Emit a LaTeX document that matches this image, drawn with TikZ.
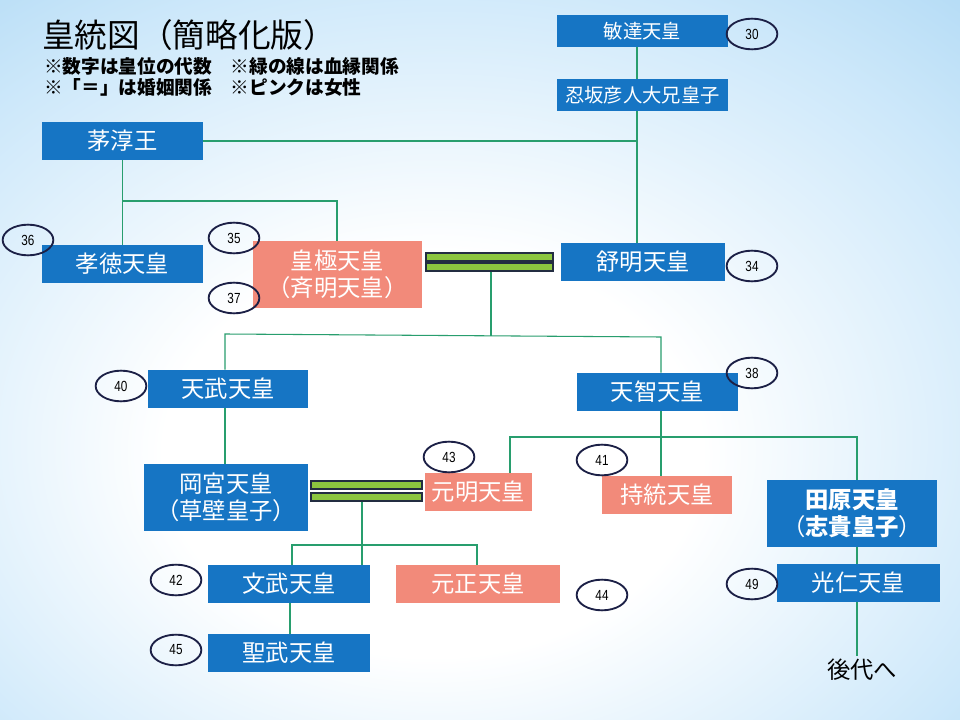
\documentclass[tikz,border=0pt]{standalone}
\usepackage{fontspec}
\newfontfamily\jp{Noto Sans CJK JP}
\newfontfamily\numf[FakeStretch=0.8]{Liberation Sans}
\usetikzlibrary{shapes.geometric}
\definecolor{boxblue}{RGB}{22,117,196}
\definecolor{boxpink}{RGB}{242,138,122}
\definecolor{kingreen}{RGB}{40,158,110}
\definecolor{barfill}{RGB}{140,198,63}
\definecolor{barline}{RGB}{35,45,65}
\definecolor{ellline}{RGB}{28,32,70}
\definecolor{bgblue}{RGB}{150,204,240}
\definecolor{bgmid}{RGB}{205,232,250}
\pgfdeclareradialshading{bgshade}{\pgfpoint{-3bp}{-8bp}}{color(0bp)=(white); color(14bp)=(white); color(32bp)=(bgmid); color(50bp)=(bgblue); color(80bp)=(bgblue)}
\newcommand\bx[7]{\node[#6, minimum width={(#4-#2)*0.75pt}, minimum height={(#5-#3)*0.75pt}] (#1) at ({(#2+#4)/2},{(#3+#5)/2}) {#7};}
\newcommand\rk[4]{\node[rankel] (#1) at (#2,#3) {#4};}
\begin{document}
\begin{tikzpicture}[x=0.75pt,y=-0.75pt,
  base/.style={rectangle, inner sep=0pt, text=white, align=center, font=\jp\fontsize{17.5}{20}\selectfont},
  blue/.style={base, fill=boxblue},
  pink/.style={base, fill=boxpink},
  small/.style={font=\jp\fontsize{14.5}{17}\selectfont},
  bar/.style={rectangle, inner sep=0pt, fill=barfill, draw=barline, line width=1.2pt},
  kin/.style={draw=kingreen, line width=0.8pt},
  rankel/.style={ellipse, draw=ellline, line width=1.4pt, inner sep=0pt, minimum width=38pt, minimum height=23pt, font=\numf\fontsize{11}{12}\selectfont, text=black}]
\useasboundingbox (0,0) rectangle (960,720);
\shade[shading=bgshade] (0,0) rectangle (960,720);

% title
\node[anchor=west, inner sep=0pt, font=\jp\fontsize{24.5}{28}\selectfont] (title) at (42,35) {皇統図（簡略化版）};
\node[anchor=west, inner sep=0pt, font=\jp\bfseries\fontsize{14}{16}\selectfont] (note1) at (44,66) {※数字は皇位の代数　※緑の線は血縁関係};
\node[anchor=west, inner sep=0pt, font=\jp\bfseries\fontsize{14}{16}\selectfont] (note2) at (44,87) {※「＝」は婚姻関係　※ピンクは女性};

% boxes
\bx{bidatsu}{557}{15}{728}{47}{blue,small}{敏達天皇}
\bx{oshi}{557}{79}{728}{111}{blue,small}{忍坂彦人大兄皇子}
\bx{chinu}{42}{122}{203}{160}{blue}{茅淳王}
\bx{kotoku}{42}{245}{203}{283}{blue}{孝徳天皇}
\bx{kogyoku}{253}{241}{422}{308}{pink}{皇極天皇\\（斉明天皇）}
\bx{jomei}{561}{243}{725}{281}{blue}{舒明天皇}
\bx{tenmu}{148}{370}{308}{408}{blue}{天武天皇}
\bx{tenji}{577}{373}{738}{411}{blue}{天智天皇}
\bx{okamiya}{144}{464}{308}{531}{blue}{岡宮天皇\\（草壁皇子）}
\bx{genmei}{425}{473}{532}{511}{pink}{元明天皇}
\bx{jito}{602}{476}{732}{514}{pink}{持統天皇}
\bx{tahara}{767}{480}{937}{547}{blue}{{\bfseries 田原天皇}\\（{\bfseries 志貴皇子}）}
\bx{monmu}{208}{565}{370}{603}{blue}{文武天皇}
\bx{gensho}{396}{565}{560}{603}{pink}{元正天皇}
\bx{shomu}{208}{634}{370}{672}{blue}{聖武天皇}
\bx{konin}{777}{564}{940}{602}{blue}{光仁天皇}
\node[inner sep=2pt, font=\jp\fontsize{17.5}{20}\selectfont] (later) at (862,670) {後代へ};

% marriage bars
\bx{m1a}{426}{253}{553}{261}{bar}{}
\bx{m1b}{426}{263}{553}{271}{bar}{}
\bx{m2a}{311}{481}{422}{489}{bar}{}
\bx{m2b}{311}{493}{422}{501}{bar}{}

% rank ellipses
\rk{r30}{752}{34}{30}
\rk{r36}{28}{240}{36}
\rk{r35}{234}{238}{35}
\rk{r37}{234}{298}{37}
\rk{r34}{752}{266}{34}
\rk{r40}{121}{386}{40}
\rk{r38}{752}{373}{38}
\rk{r43}{449}{457}{43}
\rk{r41}{602}{460}{41}
\rk{r42}{176}{580}{42}
\rk{r44}{602}{595}{44}
\rk{r45}{176}{650}{45}
\rk{r49}{752}{584}{49}

% junctions
\coordinate (jA) at (637,141);
\coordinate (jB) at (122,201);
\coordinate (jB2) at (337,201);
\coordinate (jC) at (491,335.5);
\coordinate (jL) at (225,334);
\coordinate (jR) at (661,337);
\coordinate (jD) at (661,437);
\coordinate (jE) at (510,437);
\coordinate (jF) at (857,437);
\coordinate (jG) at (362,545);
\coordinate (jH) at (292,545);
\coordinate (jI) at (477,545);
\coordinate (jJ) at (290,620);

% kinship lines
\draw[kin] (bidatsu.south -| jA) -- (oshi.north -| jA);
\draw[kin] (oshi.south -| jA) -- (jomei.north -| jA);
\draw[kin] (chinu.east) -- (jA);
\draw[kin] (chinu.south) -- (kotoku.north);
\draw[kin] (jB) -- (jB2) -- (kogyoku.north -| jB2);
\draw[kin] (m1b.south -| jC) -- (jC);
\draw[kin] (tenmu.north -| jL) -- (jL) -- (jR) -- (tenji.north -| jR);
\draw[kin] (tenmu.south -| jL) -- (okamiya.north -| jL);
\draw[kin] (tenji.south -| jD) -- (jito.north -| jD);
\draw[kin] (genmei.north -| jE) -- (jE) -- (jF) -- (tahara.north -| jF);
\draw[kin] (m2b.south -| jG) -- (monmu.north -| jG);
\draw[kin] (monmu.north -| jH) -- (jH) -- (jI) -- (gensho.north -| jI);
\draw[kin] (monmu.south -| jJ) -- (shomu.north -| jJ);
\draw[kin] (tahara.south -| jF) -- (konin.north -| jF);
\draw[kin] (konin.south -| jF) -- (later.north -| jF);
\end{tikzpicture}
\end{document}
